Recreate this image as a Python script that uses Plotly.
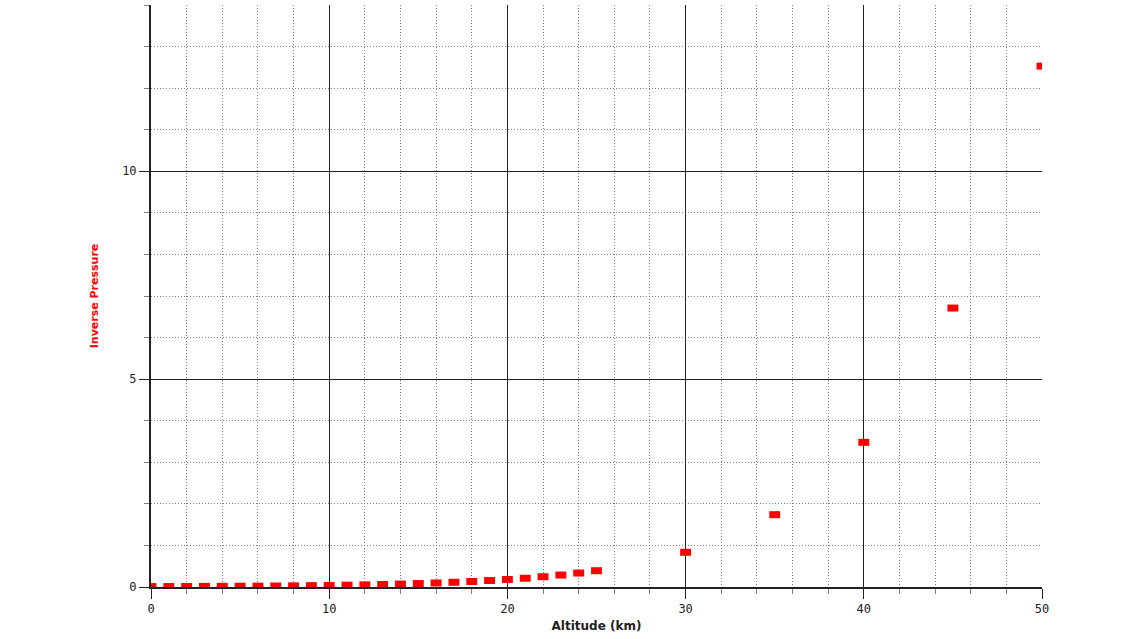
import plotly.graph_objects as go

altitude_km = [0, 1, 2, 3, 4, 5, 6, 7, 8, 9, 10, 11, 12, 13, 14, 15, 16, 17, 18, 19,
               20, 21, 22, 23, 24, 25, 30, 35, 40, 45, 50]
inverse_pressure = [0.0099, 0.0111, 0.0126, 0.0143, 0.0162, 0.0185, 0.0212, 0.0243,
                    0.0281, 0.0325, 0.0377, 0.0441, 0.0515, 0.0603, 0.0706, 0.0826,
                    0.0966, 0.113, 0.132, 0.155, 0.181, 0.211, 0.247, 0.288, 0.336,
                    0.392, 0.835, 1.74, 3.48, 6.71, 12.53]

fig = go.Figure()
fig.add_trace(go.Scatter(
    x=altitude_km, y=inverse_pressure, mode="markers",
    marker=dict(symbol="line-ew", size=7.8, color="#ff0000",
                line=dict(color="#ff0000", width=7)),
    showlegend=False, cliponaxis=True,
))

axis_common = dict(
    showgrid=True, gridcolor="#222222", gridwidth=1,
    showline=True, linecolor="#222222", linewidth=2,
    zeroline=False, mirror=False,
    ticks="outside", ticklen=10, tickcolor="#222222", tickwidth=1,
    tickfont=dict(family="DejaVu Sans Mono", size=12, color="#222222"),
)

fig.update_xaxes(
    range=[0, 50], dtick=10, tick0=0,
    minor=dict(dtick=2, showgrid=True, gridcolor="#808080", griddash="1px,2px",
               ticks="outside", ticklen=5, tickcolor="#808080"),
    title=dict(text="Altitude (km)", standoff=6,
               font=dict(family="DejaVu Sans", size=12, color="#222222", weight="bold")),
    **axis_common,
)
fig.update_yaxes(
    range=[0, 14], dtick=5, tick0=0,
    minor=dict(dtick=1, showgrid=True, gridcolor="#808080", griddash="1px,2px",
               ticks="outside", ticklen=5, tickcolor="#808080"),
    title=dict(text="Inverse Pressure", standoff=21,
               font=dict(family="DejaVu Sans", size=11, color="#ff0000", weight="bold")),
    **axis_common,
)

fig.update_layout(
    width=1136, height=639,
    margin=dict(l=151, r=94, t=5, b=52),
    plot_bgcolor="white", paper_bgcolor="white",
)

fig.write_html("out.html", config={"displayModeBar": False},
               post_script="document.body.style.margin='0';")
